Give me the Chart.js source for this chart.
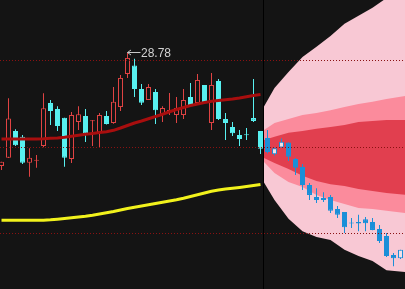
<!DOCTYPE html>
<html><head><meta charset="utf-8">
<script src="https://cdn.jsdelivr.net/npm/chart.js@4"></script>
<style>html,body{margin:0;padding:0;background:#141414;overflow:hidden}canvas{display:block}</style>
</head><body>
<canvas id="c" width="405" height="289"></canvas>
<script>
// ---- data ----
const histOpen  = [25.08,25.35,26.22,26.03,25.19,25.25,25.73,27.13,26.94,26.65,25.31,26.51,26.71,26.54,26.18,26.71,26.48,27.00,28.08,28.35,27.59,27.23,27.49,26.74,26.875,26.74,26.74,27.33,27.13,27.72,26.48,27.85,26.61,26.35,26.09,26.09,26.64,26.22];
const histHigh  = [25.22,27.29,26.28,26.09,25.66,25.44,27.45,27.23,27.03,26.65,26.84,27.03,26.94,26.58,26.81,26.87,27.65,28.04,28.78,28.57,27.75,27.75,27.59,27.03,27.46,27.33,27.59,27.78,28.08,27.72,28.11,27.91,26.81,26.51,26.25,26.32,27.91,26.22];
const histLow   = [24.95,25.34,25.73,25.15,24.73,25.02,25.69,26.42,26.22,25.06,25.18,26.25,25.86,25.73,25.70,26.43,26.46,26.87,27.95,27.33,27.07,27.23,26.45,26.51,26.74,26.48,26.61,27.03,27.13,27.13,26.25,26.58,25.93,26.06,25.73,25.93,26.51,25.47];
const histClose = [25.22,26.63,25.76,25.19,25.35,25.26,26.96,26.87,26.38,25.35,26.74,26.77,26.15,26.55,26.74,26.45,27.17,27.95,28.60,27.59,27.14,27.65,26.90,26.97,26.89,26.97,27.23,27.03,27.88,27.13,27.72,26.61,26.48,26.15,25.96,26.08,26.55,25.64];

const fcOpen  = [25.99,25.46,25.68,25.85,25.31,25.05,24.46,24.07,24.04,24.07,23.68,23.58,23.22,23.26,23.35,23.26,23.03,22.80,22.18,22.08];
const fcHigh  = [26.25,25.68,25.98,25.85,25.34,25.15,24.53,24.36,24.23,24.14,23.78,23.58,23.39,23.49,23.42,23.39,23.16,22.90,22.25,22.35];
const fcLow   = [25.50,25.42,25.68,25.24,24.79,24.30,23.97,23.88,23.91,23.55,23.39,22.90,23.06,22.96,22.96,22.99,22.57,22.12,21.82,22.05];
const fcClose = [25.54,25.66,25.87,25.38,25.02,24.46,24.14,23.97,23.97,23.62,23.49,23.09,23.21,23.21,23.22,23.00,22.64,22.15,22.08,22.35];

const maValues = [25.960,25.960,25.960,25.960,25.960,25.960,25.966,25.982,25.995,26.018,26.048,26.083,26.116,26.142,26.168,26.198,26.243,26.318,26.400,26.481,26.546,26.618,26.692,26.767,26.846,26.921,26.986,27.051,27.100,27.148,27.191,27.213,27.236,27.262,27.295,27.334,27.376,27.409];
const longMaValues = [23.312,23.312,23.312,23.312,23.312,23.312,23.316,23.329,23.348,23.371,23.394,23.420,23.446,23.479,23.518,23.557,23.599,23.648,23.697,23.736,23.778,23.817,23.860,23.899,23.941,23.983,24.032,24.087,24.143,24.201,24.260,24.299,24.332,24.358,24.384,24.413,24.446,24.478];

const fanX         = [37.5,39,41,43,45,47,49,51,53,55,57.7];
const outerTop     = [27.02,27.62,28.14,28.63,28.96,29.31,29.71,29.97,30.23,30.55,30.84];
const outerBottom  = [24.54,23.97,23.36,22.96,22.77,22.67,22.35,22.15,21.99,21.69,21.63];
const middleTop    = [26.25,26.48,26.61,26.74,26.81,26.90,27.00,27.10,27.17,27.26,27.36];
const middleBottom = [25.21,24.85,24.56,24.40,24.14,23.97,23.84,23.71,23.68,23.62,23.55];
const innerTop     = [25.93,26.03,26.16,26.22,26.29,26.35,26.42,26.51,26.55,26.58,26.58];
const innerBottom  = [25.34,25.18,24.98,24.76,24.59,24.49,24.43,24.33,24.27,24.20,24.14];

const yTicks = [28.5, 25.69, 22.89];
const dividerX = [37.43];
const annoIndex = 18;
const annoValue = 28.78;

// ---- styles ----
const BG = '#141414', RED = '#e04343', CYAN = '#58f0f0', BLUE = '#1a8fd8', BLUE_HOLLOW = '#f3dfe6';
const histX = histOpen.map((_, i) => i);
const fcX = fcOpen.map((_, i) => histOpen.length + i);

const histUp = histOpen.map((o, i) => histClose[i] >= o);
const fcUp = fcOpen.map((o, i) => fcClose[i] > o);

const pts = (xs, ys) => xs.map((x, i) => ({x, y: ys[i]}));
const fanLine = (ys, fill, color, order) => ({
  type: 'line', data: pts(fanX, ys), borderColor: 'transparent', borderWidth: 1,
  pointRadius: 0, fill: fill, backgroundColor: color, order: order, tension: 0
});
const barCommon = {type: 'bar', grouped: false, borderSkipped: false, inflateAmount: 0};

const datasets = [
  {type: 'line', data: pts(histX, maValues), borderColor: '#a80e0e', borderWidth: 3, pointRadius: 0, fill: false, order: 0, borderJoinStyle: 'round'},
  {type: 'line', data: pts(histX, longMaValues), borderColor: '#f2f21c', borderWidth: 3, pointRadius: 0, fill: false, order: 0, borderJoinStyle: 'round'},
  Object.assign({}, barCommon, {
    data: histX.map((x, i) => ({x, y: [histOpen[i], histClose[i]]})),
    backgroundColor: histUp.map(u => u ? BG : CYAN),
    borderColor: histUp.map(u => u ? RED : CYAN),
    borderWidth: 1, barThickness: 5, minBarLength: 1, order: 1
  }),
  Object.assign({}, barCommon, {
    data: fcX.map((x, i) => ({x, y: [fcOpen[i], fcClose[i]]})),
    backgroundColor: fcUp.map(u => u ? BLUE_HOLLOW : BLUE),
    borderColor: BLUE, borderWidth: 1, barThickness: 5, minBarLength: 1, order: 1
  }),
  Object.assign({}, barCommon, {
    data: histX.map((x, i) => ({x, y: [histLow[i], histHigh[i]]})),
    backgroundColor: histUp.map(u => u ? RED : CYAN),
    borderWidth: 0, barThickness: 1, order: 2
  }),
  Object.assign({}, barCommon, {
    data: fcX.map((x, i) => ({x, y: [fcLow[i], fcHigh[i]]})),
    backgroundColor: BLUE, borderWidth: 0, barThickness: 1, order: 2
  }),
  fanLine(outerTop, '+1', '#f8c8d4', 7),
  fanLine(outerBottom, false, 'transparent', 7),
  fanLine(middleTop, '+1', '#fb8b9c', 6),
  fanLine(middleBottom, false, 'transparent', 6),
  fanLine(innerTop, '+1', '#e13f4f', 5),
  fanLine(innerBottom, false, 'transparent', 5)
];

const annoPlugin = {
  id: 'anno',
  afterDatasetsDraw(chart) {
    const {ctx, scales: {x, y}} = chart;
    const px = x.getPixelForValue(annoIndex);
    const py = Math.floor(y.getPixelForValue(annoValue)) + 0.5;
    ctx.save();
    ctx.strokeStyle = '#c8c8c8';
    ctx.lineWidth = 1;
    ctx.beginPath();
    ctx.moveTo(px, py); ctx.lineTo(px + 13, py);
    ctx.moveTo(px + 3.5, py - 2.5); ctx.lineTo(px, py); ctx.lineTo(px + 3.5, py + 2.5);
    ctx.stroke();
    ctx.fillStyle = '#d2d2d2';
    ctx.font = '12px "Liberation Sans", Arial, sans-serif';
    ctx.textBaseline = 'alphabetic';
    ctx.fillText(annoValue.toFixed(2), px + 13.5, py + 4.3);
    ctx.restore();
  }
};

new Chart(document.getElementById('c'), {
  type: 'line',
  data: {datasets},
  options: {
    responsive: false, animation: false, devicePixelRatio: 1,
    layout: {padding: 0},
    plugins: {legend: {display: false}, tooltip: {enabled: false}},
    scales: {
      x: {
        type: 'linear', min: -1.5 / 7, max: -1.5 / 7 + 405 / 7, offset: false,
        ticks: {display: false}, border: {display: false},
        grid: {color: '#000000', lineWidth: 1, drawTicks: false, offset: false, z: 1},
        afterBuildTicks: s => { s.ticks = dividerX.map(v => ({value: v})); },
        afterFit: s => { s.height = 0; }
      },
      y: {
        type: 'linear', min: 21.076, max: 30.486,
        ticks: {display: false}, border: {display: false, dash: [1, 2]},
        grid: {color: '#8a1212', lineWidth: 1, drawTicks: false, z: 1},
        afterBuildTicks: s => { s.ticks = yTicks.map(v => ({value: v})); },
        afterFit: s => { s.width = 0; }
      }
    }
  },
  plugins: [annoPlugin]
});
</script>
</body></html>
